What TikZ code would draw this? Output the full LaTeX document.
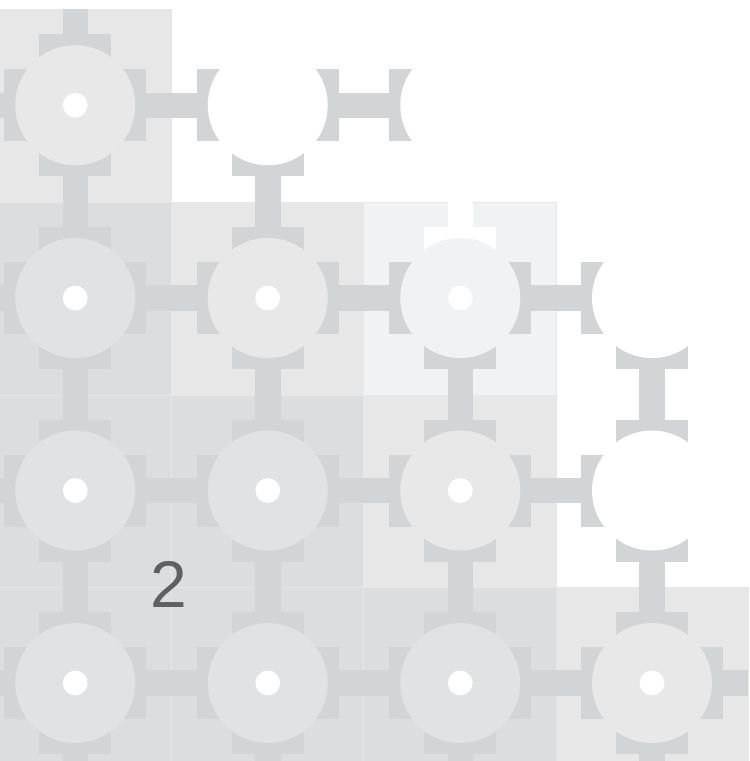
\documentclass[tikz,border=0pt]{standalone}
\usepackage{fontspec}
\setmainfont{Liberation Sans}
\definecolor{capgray}{HTML}{D3D4D6}
\definecolor{tiledark}{HTML}{DCDDDF}
\definecolor{tilemid}{HTML}{E7E7E8}
\definecolor{tilelight}{HTML}{F1F2F3}
\definecolor{circdark}{HTML}{E1E2E3}
\definecolor{circmid}{HTML}{E8E8E9}
\definecolor{circlight}{HTML}{F1F2F3}
\definecolor{seam}{HTML}{E6E7E8}
\definecolor{numcol}{HTML}{5F6062}
\tikzset{
  tile/.style={fill=#1, draw=seam, line width=0.6pt},
  bar/.style={draw=capgray, line width=25.5pt, line cap=butt},
  wbar/.style={draw=white, line width=25.5pt, line cap=butt},
  capfill/.style={fill=capgray},
  wcapfill/.style={fill=white},
  disc/.style={fill=#1},
  capN/.pic={\path[pic actions] (-36,-71) rectangle (36,-40);},
  capS/.pic={\path[pic actions] (-36,40) rectangle (36,71);},
  capE/.pic={\path[pic actions] (40,-36) rectangle (71,36);},
  capW/.pic={\path[pic actions] (-71,-36) rectangle (-40,36);},
  numtext/.style={text=numcol, font=\fontsize{66}{66}\selectfont, inner sep=0pt}
}
\begin{document}
\begin{tikzpicture}[x=1pt,y=-1pt]
\useasboundingbox (0,0) rectangle (750,761);
\clip (0,0) rectangle (750,761);
% centres
\coordinate (c11) at (75.25,105.25);
\coordinate (c12) at (267.75,105.25);
\coordinate (c13) at (460.25,105.25);
\coordinate (c21) at (75.25,298);
\coordinate (c22) at (267.75,298);
\coordinate (c23) at (460.25,298);
\coordinate (c24) at (652,298);
\coordinate (c31) at (75.25,490.5);
\coordinate (c32) at (267.75,490.5);
\coordinate (c33) at (460.25,490.5);
\coordinate (c34) at (652,490.5);
\coordinate (c41) at (75.25,683);
\coordinate (c42) at (267.75,683);
\coordinate (c43) at (460.25,683);
\coordinate (c44) at (652,683);
% free ends
\coordinate (l1) at (0,105.25);
\coordinate (l2) at (0,298);
\coordinate (l3) at (0,490.5);
\coordinate (l4) at (0,683);
\coordinate (r4) at (748,683);
\coordinate (t1) at (75.25,9);
\coordinate (b1) at (75.25,761);
\coordinate (b2) at (267.75,761);
\coordinate (b3) at (460.25,761);
\coordinate (b4) at (652,761);
% tiles
\path[tile=tilemid] (-21,9) rectangle (171.5,202);
\path[tile=tiledark] (-21,202) rectangle (171.5,395);
\path[tile=tilemid] (171.5,202) rectangle (363.5,395);
\path[tile=tilelight] (363.5,202) rectangle (556,395);
\path[tile=tiledark] (-21,395) rectangle (171.5,587.5);
\path[tile=tiledark] (171.5,395) rectangle (363.5,587.5);
\path[tile=tilemid] (363.5,395) rectangle (556,587.5);
\path[tile=tiledark] (-21,587.5) rectangle (171.5,780);
\path[tile=tiledark] (171.5,587.5) rectangle (363.5,780);
\path[tile=tiledark] (363.5,587.5) rectangle (556,780);
\path[tile=tilemid] (556,587.5) rectangle (748,780);
% horizontal bars
\draw[bar] (l1) -- (c11) -- (c12) -- (c13);
\draw[bar] (l2) -- (c21) -- (c22) -- (c23) -- (c24);
\draw[bar] (l3) -- (c31) -- (c32) -- (c33) -- (c34);
\draw[bar] (l4) -- (c41) -- (c42) -- (c43) -- (c44) -- (r4);
% vertical bars
\draw[bar] (t1) -- (c11) -- (c21) -- (c31) -- (c41) -- (b1);
\draw[bar] (c12) -- (c22) -- (c32) -- (c42) -- (b2);
\draw[wbar] (c13) -- (c23);
\draw[bar] (c23) -- (c33) -- (c43) -- (b3);
\draw[bar] (c24) -- (c34) -- (c44) -- (b4);
% caps
\foreach \c in {c11,c21,c22,c31,c32,c33,c41,c42,c43,c44}{
  \pic[capfill] at (\c) {capN};
  \pic[capfill] at (\c) {capS};
  \pic[capfill] at (\c) {capE};
  \pic[capfill] at (\c) {capW};
}
\pic[capfill] at (c12) {capW};
\pic[capfill] at (c12) {capE};
\pic[capfill] at (c12) {capS};
\pic[capfill] at (c13) {capW};
\pic[wcapfill] at (c23) {capN};
\pic[capfill] at (c23) {capW};
\pic[capfill] at (c23) {capE};
\pic[capfill] at (c23) {capS};
\pic[capfill] at (c24) {capW};
\pic[capfill] at (c24) {capS};
\pic[capfill] at (c34) {capN};
\pic[capfill] at (c34) {capW};
\pic[capfill] at (c34) {capS};
% discs
\foreach \c in {c21,c31,c32,c41,c42,c43}{\path[disc=circdark] (\c) circle (60);}
\foreach \c in {c11,c22,c33,c44}{\path[disc=circmid] (\c) circle (60);}
\path[disc=circlight] (c23) circle (60);
\foreach \c in {c12,c13,c24,c34}{\path[disc=white] (\c) circle (60);}
% centre dots
\foreach \c in {c11,c21,c22,c23,c31,c32,c33,c41,c42,c43,c44}{\path[disc=white] (\c) circle (12.4);}
% label
\node[numtext, anchor=base] (lbl) at (168.5,607) {2};
\end{tikzpicture}
\end{document}
